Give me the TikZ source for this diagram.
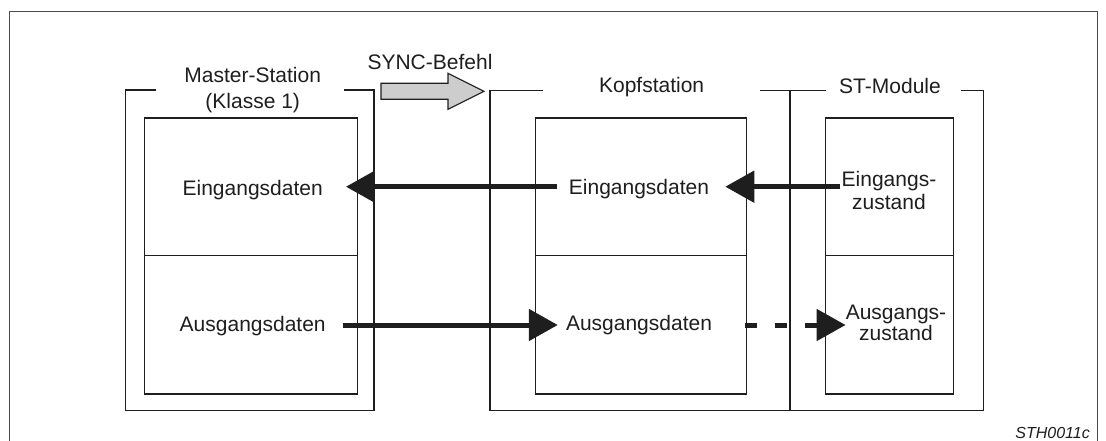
\documentclass[tikz,border=0pt]{standalone}
\usepackage{fontspec}
\setmainfont{Liberation Sans}
\usetikzlibrary{arrows.meta}
\definecolor{ink}{HTML}{1E1E1E}
\definecolor{syncgray}{HTML}{CDCDCD}
\tikzset{
  frame/.style={draw=ink, line width=1.4pt},
  cell/.style={draw=ink, line width=1.4pt, inner sep=0pt, anchor=north west},
  lbl/.style={inner sep=0pt, anchor=base, text=ink, font=\fontsize{21}{22.5}\selectfont},
  flow/.style={draw=ink, line width=5pt, -{Triangle[length=29pt,width=31pt]}},
  dflow/.style={flow, dash pattern=on 12pt off 18pt},
}
\begin{document}
\begin{tikzpicture}[x=1pt,y=-1pt]
\useasboundingbox (0,0) rectangle (1106,441);

% outer frame, open at the bottom
\draw[draw=ink!80, line width=1pt] (9.6,445) -- (9.6,12) -- (1097,12) -- (1097,445);

% Master station bracket
\draw[frame] (156,90) -- (125.7,90) -- (125.7,410.7) -- (374,410.7) -- (374,90) -- (344,90);
% Head station and ST modules bracket
\draw[frame] (543,90.7) -- (490,90.7) -- (490,410.7) -- (983.6,410.7) -- (983.6,90.7) -- (961,90.7);
\draw[frame] (760,90.7) -- (826,90.7);
\draw[frame] (790,90.7) -- (790,410.7);

% data cells
\node[cell, minimum width=213.4pt, minimum height=137.7pt] (mTop) at (143.6,117.3) {};
\node[cell, minimum width=213.4pt, minimum height=138.3pt] (mBot) at (143.6,255) {};
\node[cell, minimum width=211.4pt, minimum height=137.7pt] (kTop) at (534.6,117.3) {};
\node[cell, minimum width=211.4pt, minimum height=138.3pt] (kBot) at (534.6,255) {};
\node[cell, minimum width=127.9pt, minimum height=137.7pt] (sTop) at (824.6,117.3) {};
\node[cell, minimum width=127.9pt, minimum height=138.3pt] (sBot) at (824.6,255) {};

% headings
\node[lbl] (mHead1) at (252.7,82.7) {Master-Station};
\node[lbl] (mHead2) at (252.7,108.3) {(Klasse 1)};
\node[lbl] (kHead) at (651.6,92.3) {Kopfstation};
\node[lbl] (sHead) at (890,93.5) {ST-Module};

% SYNC command arrow
\node[lbl] (sync) at (430,70) {SYNC-Befehl};
\draw[draw=ink, line width=1.2pt, fill=syncgray, line join=miter]
  (381,83.3) -- (448,83.3) -- (448,73.3) -- (484,91.3) -- (448,109.3) -- (448,99.3) -- (381,99.3) -- cycle;

% cell texts
\node[lbl] (mIn) at (252.7,195) {Eingangsdaten};
\node[lbl] (mOut) at (252.7,331) {Ausgangsdaten};
\node[lbl] (kIn) at (639,194) {Eingangsdaten};
\node[lbl] (kOut) at (639,330) {Ausgangsdaten};
\node[lbl] (sIn1) at (889,186.7) {Eingangs-};
\node[lbl] (sIn2) at (889,209.3) {zustand};
\node[lbl] (sOut1) at (896,319.3) {Ausgangs-};
\node[lbl] (sOut2) at (896,340.7) {zustand};

% data flow: input states towards the master, outputs towards the modules
\draw[flow] ([xshift=-1.5pt]sIn1.base west) -- ([xshift=16pt]kIn.east |- sIn1.base west);
\draw[flow] ([xshift=-12pt]kIn.west |- sIn1.base west) -- ([xshift=23pt]mIn.east |- sIn1.base west);
\draw[flow] ([xshift=17.3pt,yshift=6pt]mOut.base east) -- ([xshift=-8pt,yshift=6pt]kOut.west |- mOut.base east);
\draw[dflow] ([xshift=33pt,yshift=6pt]kOut.east |- mOut.base east) -- ([yshift=6pt]sOut1.west |- mOut.base east);

% drawing number
\node[inner sep=0pt, anchor=base east, text=ink, font=\fontsize{16}{18}\selectfont\itshape] (code) at (1090,438.3) {STH0011c};
\end{tikzpicture}
\end{document}
